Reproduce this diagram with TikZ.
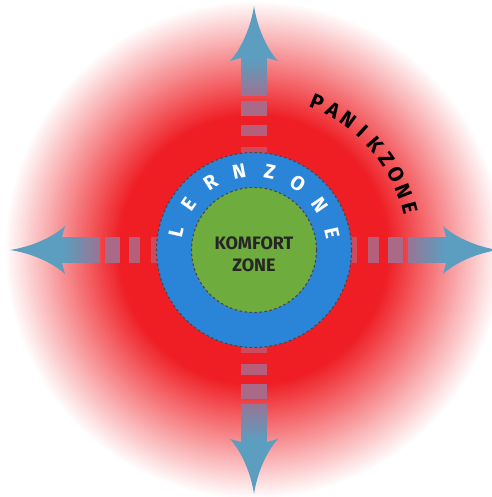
\documentclass[tikz,border=0pt]{standalone}
\usepackage{fontspec}
\setmainfont{Fira Sans}
\usetikzlibrary{calc}
\definecolor{zred}{RGB}{238,30,36}
\definecolor{zblue}{RGB}{42,133,216}
\definecolor{zgreen}{RGB}{110,172,62}
\definecolor{zborder}{RGB}{70,70,75}
\definecolor{arrA}{RGB}{92,158,192}
\definecolor{arrB}{RGB}{150,118,150}
\definecolor{dashA}{RGB}{170,105,135}
\definecolor{dashB}{RGB}{182,95,122}
\definecolor{dashC}{RGB}{205,75,95}
\tikzset{
  lernfont/.style={font=\bfseries\fontsize{20}{20}\selectfont, inner sep=0pt},
  panikfont/.style={font=\bfseries\fontsize{21}{21}\selectfont, inner sep=0pt},
  ring/.style={circle, draw=zborder, line width=1.1pt, dash pattern=on 2.5pt off 2.5pt, inner sep=0pt},
}
\newcommand\zarrow[1]{%
\begin{scope}[shift={(c)}, rotate=#1]
  \fill[dashC] (96,-13) rectangle (103,13);
  \fill[dashB] (114,-13) rectangle (125,13);
  \fill[dashA] (134,-13) rectangle (149,13);
  \foreach \i in {0,...,9}{
    \pgfmathsetmacro\pp{\i*11}
    \fill[arrA!\pp!arrB] ({154+3.9*\i},-13) rectangle ({154+3.9*(\i+1)+0.6},13);
  }
  \fill[arrA] (192,13) -- (189,24) .. controls (202,12) and (224,3) .. (244,0)
     .. controls (224,-3) and (202,-12) .. (189,-24) -- (192,-13) -- cycle;
\end{scope}}
\begin{document}
\begin{tikzpicture}[x=1pt,y=1pt]
\useasboundingbox (0,0) rectangle (491,497);
\fill[white] (0,0) rectangle (491,497);
\coordinate (c) at (254,247);
\foreach \r in {252,250,...,134}{
  \pgfmathsetmacro\p{max(0,min(100,100*(250-\r)/115))}
  \fill[zred!\p!white] (c) circle (\r);
}
\zarrow{90}
\zarrow{180}
\zarrow{270}
\zarrow{0}
\node[ring, fill=zblue, minimum size=195pt] (lern) at (c) {};
\node[ring, fill=zgreen, minimum size=125pt] (komf) at (c) {};
\node[text=black!85, align=center, font=\bfseries\fontsize{18}{22}\selectfont] (ktext) at ([yshift=-4pt]c) {KOMFORT\\ZONE};
\foreach \ch [count=\k from 0] in {L,E,R,N,Z,O,N,E}{
  \pgfmathsetmacro\ang{167-22.1*\k}
  \node[lernfont, text=white, rotate=\ang-90] (lz\k) at ($(c)+(\ang:80)$) {\ch};
}
\foreach \ch [count=\k from 0] in {P,A,N,I,K,Z,O,N,E}{
  \pgfmathsetmacro\ang{67-6.5*\k}
  \node[panikfont, text=black, rotate=\ang-90] (pz\k) at ($(c)+(\ang:161)$) {\ch};
}
\end{tikzpicture}
\end{document}
